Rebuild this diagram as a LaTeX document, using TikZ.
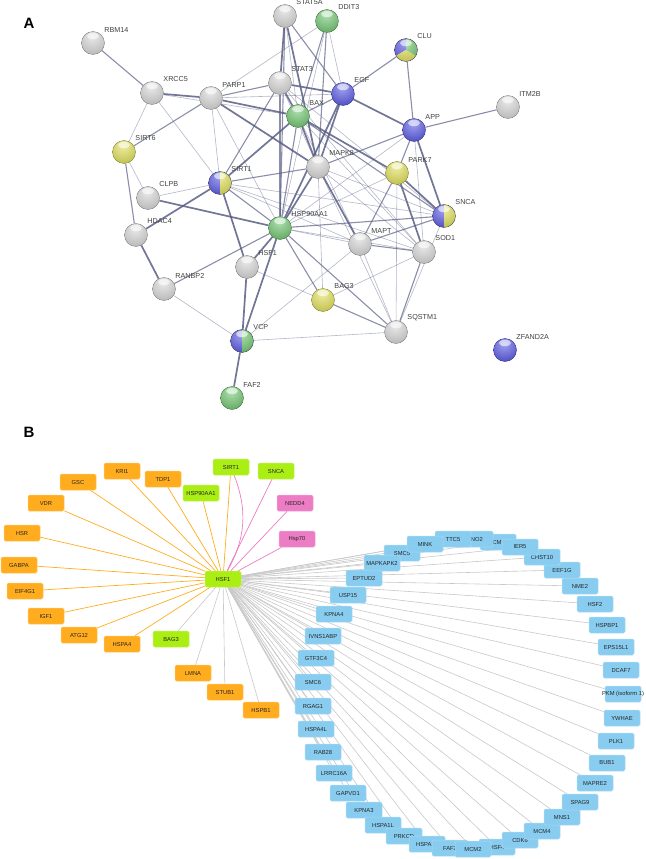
\documentclass[tikz,border=0pt]{standalone}
\usepackage{fontspec}
\setmainfont{Liberation Sans}
\usetikzlibrary{backgrounds}

\definecolor{edgeA}{RGB}{88,94,132}
\definecolor{ballW}{RGB}{210,210,210}
\definecolor{ballG}{RGB}{92,190,92}
\definecolor{ballB}{RGB}{64,64,225}
\definecolor{ballY}{RGB}{220,220,64}
\definecolor{orangeB}{RGB}{255,172,30}
\definecolor{limeB}{RGB}{170,238,20}
\definecolor{pinkB}{RGB}{236,124,196}
\definecolor{blueB}{RGB}{136,204,240}
\definecolor{greyB}{RGB}{200,200,200}

\tikzset{
  protein/.style={circle, minimum size=23pt, inner sep=0pt, label={[lblA]45:#1}},
  lblA/.style={font=\fontsize{7.2}{8}\selectfont, text=black!75, inner sep=0pt, xshift=3pt, yshift=2.5pt},
  thn/.style={draw=edgeA, line width=0.6pt, opacity=0.45},
  med/.style={draw=edgeA, line width=1.1pt, opacity=0.7},
  thk/.style={draw=edgeA, line width=1.7pt, opacity=0.85},
  genebox/.style={rectangle, rounded corners=1.5pt, minimum width=36pt, minimum height=16pt,
    inner sep=0pt, line width=0.5pt, font=\fontsize{5.8}{6}\selectfont, text=black!85},
  obox/.style={genebox, fill=orangeB, draw=orangeB!70!white},
  lbox/.style={genebox, fill=limeB, draw=limeB!70!white},
  pbox/.style={genebox, fill=pinkB, draw=pinkB!70!white},
  bbox/.style={genebox, fill=blueB, draw=blueB!70!white},
  oedge/.style={draw=orangeB, line width=0.7pt},
  pedge/.style={draw=pinkB, line width=0.7pt},
  gedge/.style={draw=greyB, line width=0.6pt},
  panel/.style={font=\fontsize{15}{15}\selectfont\bfseries}
}
\newcommand\gene[1]{\makebox[0pt]{#1}}
% soft glossy sphere on a named node
\newcommand\orb[2]{%
  \begin{scope}
    \clip (#1) circle (11.5pt);
    \shade[inner color=#2!50!white, outer color=#2!80!black] ([shift={(-1pt,6pt)}]#1.center) circle (24pt);
    \fill[white, opacity=0.6] ([shift={(0pt,7pt)}]#1.center) ellipse (6pt and 3.2pt);
  \end{scope}}
\newcommand\rim[2]{\draw[#2!55!black, line width=0.35pt] (#1) circle (11.5pt);}

\begin{document}
\begin{tikzpicture}[x=1pt,y=-1pt]
\useasboundingbox (0,0) rectangle (645,859);

% panel A
\node[panel] (panA) at (29,23) {A};

\foreach \n/\x/\y/\t/\c in {rbm/93/43/RBM14/ballW, xrcc/152/93/XRCC5/ballW, parp/211/98/PARP1/ballW,
  stat3/280/83/STAT3/ballW, stat5/285/16/STAT5A/ballW, bax/298/116/BAX/ballG, sirt6/124/152/SIRT6/ballY,
  clpb/148/198/CLPB/ballW, hdac/136/235/HDAC4/ballW, hsp/280/228/HSP90AA1/ballG, mapk/318/167/MAPK8/ballW,
  hsf/247/267/HSF1/ballW, ddit/327/21/DDIT3/ballG, egf/343/94/EGF/ballB, app/414/130/APP/ballB,
  itm/508/107/ITM2B/ballW, park/397/173/PARK7/ballY, mapt/360/244/MAPT/ballW, sod/424/252/SOD1/ballW,
  ranbp/164/289/RANBP2/ballW, bag/323/300/BAG3/ballY, sqstm/396/332/SQSTM1/ballW, faf/232/398/FAF2/ballG,
  zfand/505/350/ZFAND2A/ballB}
{
  \node[protein=\t] (\n) at (\x,\y) {};
  \orb{\n}{\c}
  \rim{\n}{\c}
}

% split colours
\node[protein=SIRT1] (sirt1) at (220,183) {};
\node[protein=SNCA] (snca) at (444,216) {};
\node[protein=VCP] (vcp) at (242,341) {};
\node[protein=CLU] (clu) at (406,50) {};
\foreach \n/\l/\r in {sirt1/ballB/ballY, snca/ballB/ballY, vcp/ballB/ballG}
{
  \begin{scope}
    \clip (\n.center) ++(-12pt,-12pt) rectangle ++(12pt,24pt);
    \orb{\n}{\l}
  \end{scope}
  \begin{scope}
    \clip (\n.center) ++(0pt,-12pt) rectangle ++(12pt,24pt);
    \orb{\n}{\r}
  \end{scope}
  \rim{\n}{edgeA}
}
\foreach \a/\c in {90/ballB, 210/ballY, 330/ballG}
{
  \begin{scope}
    \clip (clu.center) -- ++(\a:13pt) arc[start angle=\a, end angle=\a+120, radius=13pt] -- cycle;
    \orb{clu}{\c}
  \end{scope}
}
\rim{clu}{edgeA}

\begin{scope}[on background layer]
\foreach \a/\b in {xrcc/parp, hdac/ranbp, sirt1/hdac, sirt1/hsf, clpb/hsp, hsp/hsf, hsp/vcp, hsf/vcp,
  vcp/faf, hsp/mapk, hsp/egf, mapk/egf, mapk/bax, stat3/bax, stat3/egf, stat5/stat3, stat5/mapk,
  sirt1/bax, parp/mapk, parp/bax, app/egf, app/snca, park/snca, park/sod, park/bax, mapk/mapt}
  \draw[thk] (\a) -- (\b);
\foreach \a/\b in {rbm/xrcc, sirt6/hdac, sirt6/parp, parp/stat3, sirt1/mapk, sirt1/stat3, ranbp/hsp,
  egf/clu, clu/app, app/itm, app/mapk, app/park, park/mapt, mapt/snca, bag/sqstm, bag/hsp, hsp/sqstm,
  hsp/stat3, stat5/egf, ddit/mapk, ddit/bax, egf/bax, sqstm/sod, hsp/bax, snca/bax, mapt/sod,
  hsp/snca, sirt1/hsp, stat5/hsp}
  \draw[med] (\a) -- (\b);
\foreach \a/\b in {xrcc/sirt6, xrcc/sirt1, sirt6/clpb, sirt1/clpb, sirt1/parp, parp/hsp, parp/ddit,
  ranbp/vcp, vcp/sqstm, vcp/mapt, hsf/bag, bag/mapk, bag/sod, sqstm/mapt, sqstm/park, sqstm/snca,
  sqstm/mapk, sirt1/snca, sirt1/sod, sirt1/mapt, mapk/sod, mapk/snca, hsp/mapt, hsp/sod, hsp/park,
  sod/app, stat3/sod, bax/sod, bax/mapt, stat5/bax, ddit/egf, parp/egf, xrcc/bax, stat3/mapk,
  stat3/snca, hsp/app, ddit/hsp}
  \draw[thn] (\a) -- (\b);
\end{scope}

% panel B
\node[panel] (panB) at (29,432) {B};

\node[lbox] (hsf1b) at (223,579) {HSF1};
\foreach \n/\x/\y/\t in {kri1/122/471/KRI1, gsc/78/482/GSC, tdp1/163/479/TDP1, vdr/46/503/VDR,
  hsr/22/533/HSR, gabpa/19/565/GABPA, eif4g1/25/591/EIF4G1, igf1/46/616/IGF1, atg12/79/635/ATG12,
  hspa4/122/644/HSPA4, lmna/193/673/LMNA, stub1/225/692/STUB1, hspb1/261/710/HSPB1}
  \node[obox] (\n) at (\x,\y) {\t};
\node[lbox] (sirt1b) at (231,467) {SIRT1};
\node[lbox] (sncab) at (276,471) {SNCA};
\node[lbox] (hsp90b) at (201,493) {HSP90AA1};
\node[lbox] (bag3b) at (171,639) {BAG3};
\node[pbox] (nedd4) at (295,503) {NEDD4};
\node[pbox] (hsp70) at (297,539) {Hsp70};

\foreach \n/\x/\y/\t in {icmt/498/542/ICMT, smc5/402/553/SMC5, mapkapk2/382/563/MAPKAPK2,
  eptud2/364/578/EPTUD2, usp15/348/595/USP15, kpna4/334/614/KPNA4, ivns/323/636/IVNS1ABP,
  gtf/316/658/GTF3C4, smc6/313/682/SMC6, rgag1/313/706/RGAG1, hspa4l/316/729/HSPA4L,
  rab28/323/752/RAB28, lrrc/334/773/LRRC16A, gapvd1/348/793/GAPVD1, kpna3/364/810/KPNA3,
  hspa1la/383/825/HSPA1L, prkcd/404/836/PRKCD, hspa1lb/427/844/HSPA1L, faf2b/450/848/FAF2,
  hsf4/497/847/HSF4, mcm2/473/849/MCM2, cdk6/520/840/CDK6, mcm4/542/831/MCM4, mns1/562/817/MNS1,
  spag9/580/802/SPAG9, mapre2/595/783/MAPRE2, bub1/607/763/BUB1, plk1/616/741/PLK1,
  ywhae/622/718/YWHAE, pkm/623/694/PKM (isoform 1), dcaf7/621/670/DCAF7, eps/616/647/EPS15L1,
  hspbp1/607/625/HSPBP1, hsf2/595/604/HSF2, nme2/580/586/NME2, eef1g/562/570/EEF1G,
  chst10/542/557/CHST10, ier5/520/547/IER5, eno2/475/539/ENO2, ttc5/453/539/TTC5, mink/425/544/MINK}
  \node[bbox] (\n) at (\x,\y) {\gene{\t}};

\begin{scope}[on background layer]
\foreach \n in {kri1, gsc, tdp1, vdr, hsr, gabpa, eif4g1, igf1, atg12, hspa4, sirt1b, hsp90b}
  \draw[oedge] (\n) -- (hsf1b);
\foreach \n in {sncab, nedd4, hsp70}
  \draw[pedge] (\n) -- (hsf1b);
\draw[pedge] (sirt1b) to[bend left=25] (hsf1b);
\foreach \n in {bag3b, lmna, stub1, hspb1, icmt, smc5, mapkapk2, eptud2, usp15, kpna4, ivns, gtf,
  smc6, rgag1, hspa4l, rab28, lrrc, gapvd1, kpna3, hspa1la, prkcd, hspa1lb, faf2b, hsf4, mcm2, cdk6,
  mcm4, mns1, spag9, mapre2, bub1, plk1, ywhae, pkm, dcaf7, eps, hspbp1, hsf2, nme2, eef1g, chst10,
  ier5, eno2, ttc5, mink}
  \draw[gedge] (hsf1b) -- (\n);
\end{scope}
\end{tikzpicture}
\end{document}
